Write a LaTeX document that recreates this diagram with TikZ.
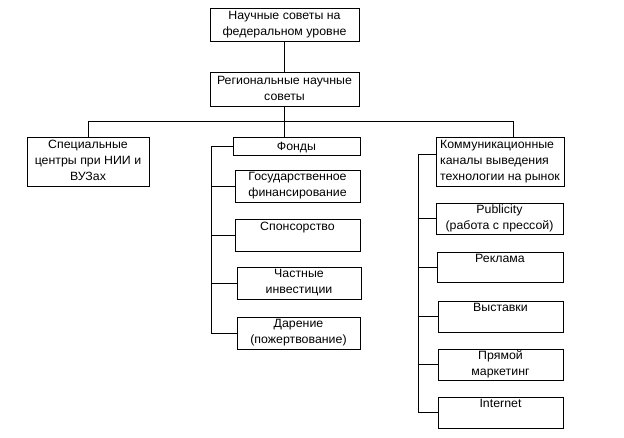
\documentclass[tikz,border=0pt]{standalone}
\usepackage{fontspec}
\setmainfont{Liberation Sans}[FakeStretch=1.03]
\usetikzlibrary{calc}
\begin{document}
\begin{tikzpicture}[x=1pt,y=-1pt,line width=1pt,
  box/.style={draw, rectangle, inner xsep=2pt, inner ysep=0pt, align=center,
    font=\fontsize{12}{16}\selectfont,
    execute at begin node=\rule{0pt}{12pt},
    execute at end node=\rule[-1.5pt]{0pt}{1.5pt}},
  lbox/.style={box, align=left}]
\useasboundingbox (0,0) rectangle (624,437);
% top levels
\node[box, minimum width=149pt, minimum height=33pt] (top) at (284.5,24.5) {Научные советы на\\федеральном уровне};
\node[box, minimum width=149pt, minimum height=34pt] (reg) at (284.5,89) {Региональные научные\\советы};
% second row
\node[box, minimum width=122pt, minimum height=49pt] (spec) at (88,161.5) {Специальные\\центры при НИИ и\\ВУЗах};
\node[box, minimum width=127pt, minimum height=18pt] (fonds) at (296.5,146) {Фонды};
\node[lbox, minimum width=128pt, minimum height=49pt] (komm) at (500,161.5) {Коммуникационные\\каналы выведения\\технологии на рынок};
% funds column
\node[box, minimum width=125pt, minimum height=32pt] (gos) at (297.5,186) {Государственное\\финансирование};
\node[box, minimum width=125pt, minimum height=32pt] (spons) at (297.5,235) {Спонсорство\\};
\node[box, minimum width=124pt, minimum height=32pt] (chast) at (299,283) {Частные\\инвестиции};
\node[box, minimum width=123pt, minimum height=32pt] (dar) at (298.5,333) {Дарение\\(пожертвование)};
% channels column
\node[box, minimum width=127pt, minimum height=31pt] (pub) at (499.5,218.5) {Publicity\\(работа с прессой)};
\node[box, minimum width=126pt, minimum height=30pt] (rekl) at (500,267) {Реклама\\};
\node[box, minimum width=125pt, minimum height=31pt] (vyst) at (500.5,316.5) {Выставки\\};
\node[box, minimum width=125pt, minimum height=31pt] (pryam) at (500.5,364.5) {Прямой\\маркетинг};
\node[box, minimum width=125pt, minimum height=31pt] (inet) at (500.5,412.5) {Internet\\};
% helper coordinates
\coordinate (bus) at (0,121);
\coordinate (lb) at (211,0);
\coordinate (rb) at (418,0);
\coordinate (kn) at ($(komm.north)+(13,0)$);
\coordinate (kw) at ($(komm.west)+(0,-7.5)$);
% connectors
\draw (top) -- (reg);
\draw (reg.south) -- (reg.south |- bus);
\draw (spec.north) -- (spec.north |- bus) -- (kn |- bus) -- (kn);
\draw (reg.south |- bus) -- (reg.south |- fonds.north);
\draw (fonds.west) -- (fonds.west -| lb) -- (dar.west -| lb) -- (dar.west);
\foreach \n in {gos,spons,chast} \draw (\n.west) -- (\n.west -| lb);
\draw (kw) -- (kw -| rb) -- (inet.west -| rb) -- (inet.west);
\foreach \n in {pub,rekl,vyst,pryam} \draw (\n.west) -- (\n.west -| rb);
\end{tikzpicture}
\end{document}
